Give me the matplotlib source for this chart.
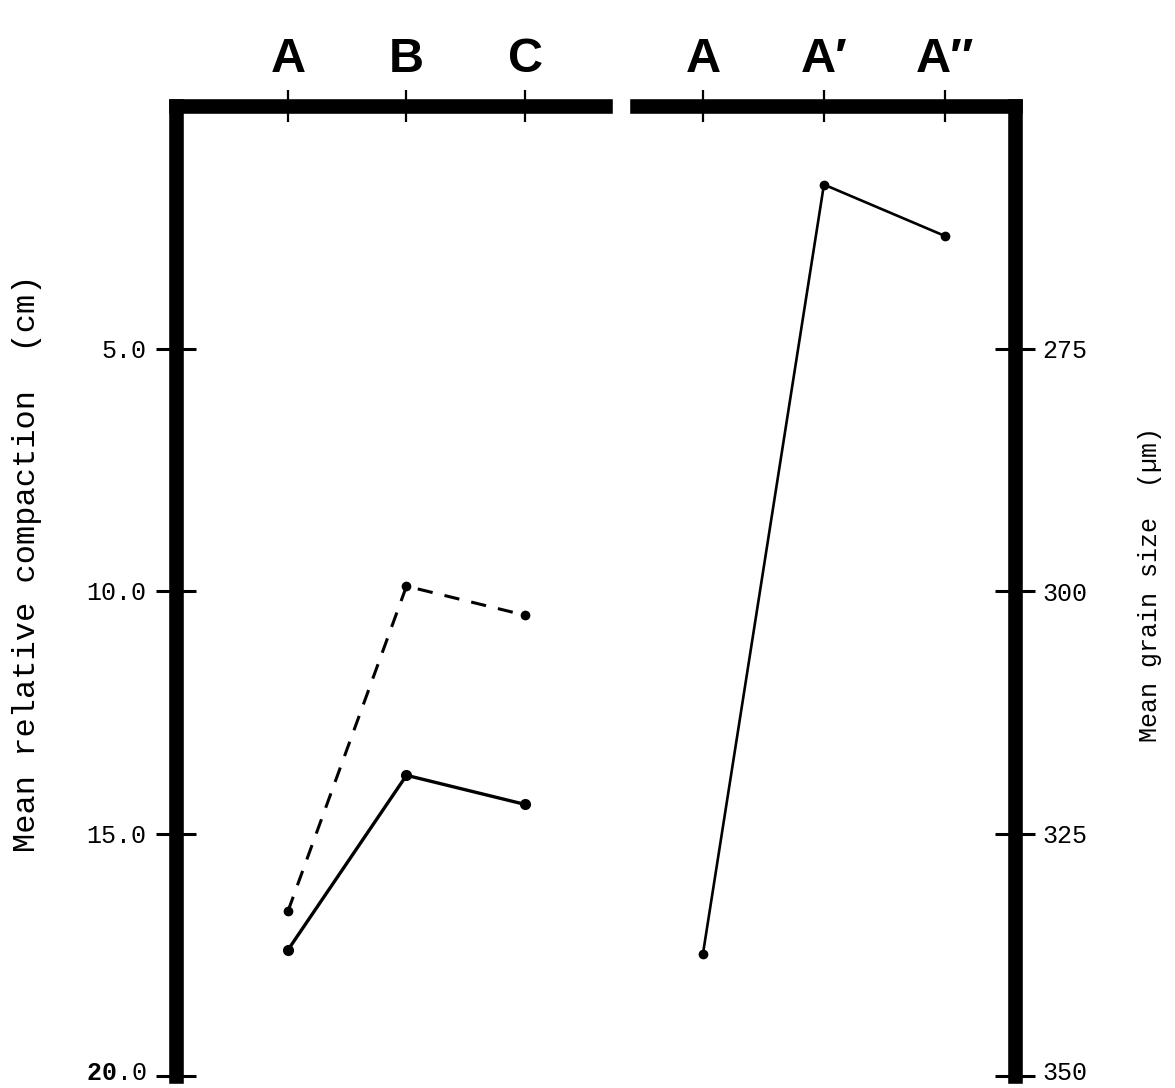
import matplotlib
matplotlib.use("Agg")
import matplotlib.pyplot as plt
from matplotlib.transforms import ScaledTranslation

# ---- data -------------------------------------------------------------
left_categories = ["A", "B", "C"]
compaction_solid = [17.4, 13.8, 14.4]      # cm
compaction_dashed = [16.6, 9.9, 10.5]      # cm
left_ticks = [5.0, 10.0, 15.0, 20.0]
left_ticklabels = ["5.0", "10.0", "15.0", r"$\mathbf{20}$.0"]

right_categories = ["A", "A\u2032", "A\u2033"]
grain_size = [337.4, 258.1, 263.4]         # micrometres
right_ticks = [275, 300, 325, 350]
right_ticklabels = ["275", "300", "325", "350"]

# ---- style ------------------------------------------------------------
plt.rcParams["font.family"] = ["Liberation Mono", "DejaVu Sans Mono"]
plt.rcParams["mathtext.fontset"] = "custom"
plt.rcParams["mathtext.rm"] = "Liberation Mono"
plt.rcParams["mathtext.bf"] = "Liberation Mono:bold"

W, H = 1175, 1088
fig = plt.figure(figsize=(W / 100, H / 100), dpi=100)
fig.patch.set_facecolor("white")

y_top, y_bot = 106, 1076
bottom = 1 - y_bot / H
height = (y_bot - y_top) / H

axL = fig.add_axes([176 / W, bottom, (605 - 176) / W, height])
axR = fig.add_axes([637 / W, bottom, (1015 - 637) / W, height])

SPINE_LW = 10.5
cat_font = dict(family=["Liberation Sans", "DejaVu Sans"], weight="bold", size=35)

for ax in (axL, axR):
    ax.set_facecolor("none")
    ax.spines["bottom"].set_visible(False)
    for s in ax.spines.values():
        s.set_linewidth(SPINE_LW)
        s.set_capstyle("projecting")
    ax.xaxis.tick_top()
    ax.tick_params(axis="x", direction="inout", length=23, width=1.6,
                   pad=6, labelsize=35)
    ax.tick_params(axis="y", direction="inout", length=29, width=2.2,
                   labelsize=18)

# left panel: relative compaction
axL.spines["right"].set_visible(False)
axL.set_xlim(-0.945, 2.675)
axL.set_ylim(20, 0)
axL.set_xticks(range(len(left_categories)))
axL.set_xticklabels(left_categories, fontdict=cat_font)
axL.set_yticks(left_ticks)
axL.set_yticklabels(left_ticklabels)
axL.tick_params(axis="y", pad=7)

x_left = list(range(len(left_categories)))
axL.plot(x_left, compaction_dashed, color="black", lw=2.2,
         linestyle=(0, (5, 4)), marker="o", ms=6, clip_on=False)
axL.plot(x_left, compaction_solid, color="black", lw=2.4,
         marker="o", ms=7, clip_on=False)

# right panel: grain size
axR.spines["left"].set_visible(False)
axR.set_xlim(-0.545, 2.579)
axR.set_ylim(350, 250)
axR.set_xticks(range(len(right_categories)))
axR.set_xticklabels(right_categories, fontdict=cat_font)
axR.yaxis.tick_right()
axR.set_yticks(right_ticks)
axR.set_yticklabels(right_ticklabels)
axR.tick_params(axis="y", pad=5)

x_right = list(range(len(right_categories)))
axR.plot(x_right, grain_size, color="black", lw=1.9,
         marker="o", ms=6, clip_on=False)

# lift the bottom-most tick labels so they sit just above the figure edge
lift = ScaledTranslation(0, 6 / 100, fig.dpi_scale_trans)
for lab in (axL.yaxis.get_major_ticks()[-1].label1,
            axR.yaxis.get_major_ticks()[-1].label2):
    lab.set_transform(lab.get_transform() + lift)

# axis titles
fig.text(27 / W, 1 - 563 / H, "Mean relative compaction  (cm)",
         rotation=90, ha="center", va="center", fontsize=23)
fig.text(1150 / W, 1 - 585 / H, "Mean grain size  (\u00b5m)",
         rotation=90, ha="center", va="center", fontsize=18)

fig.savefig("out.png", dpi=100, facecolor="white")
